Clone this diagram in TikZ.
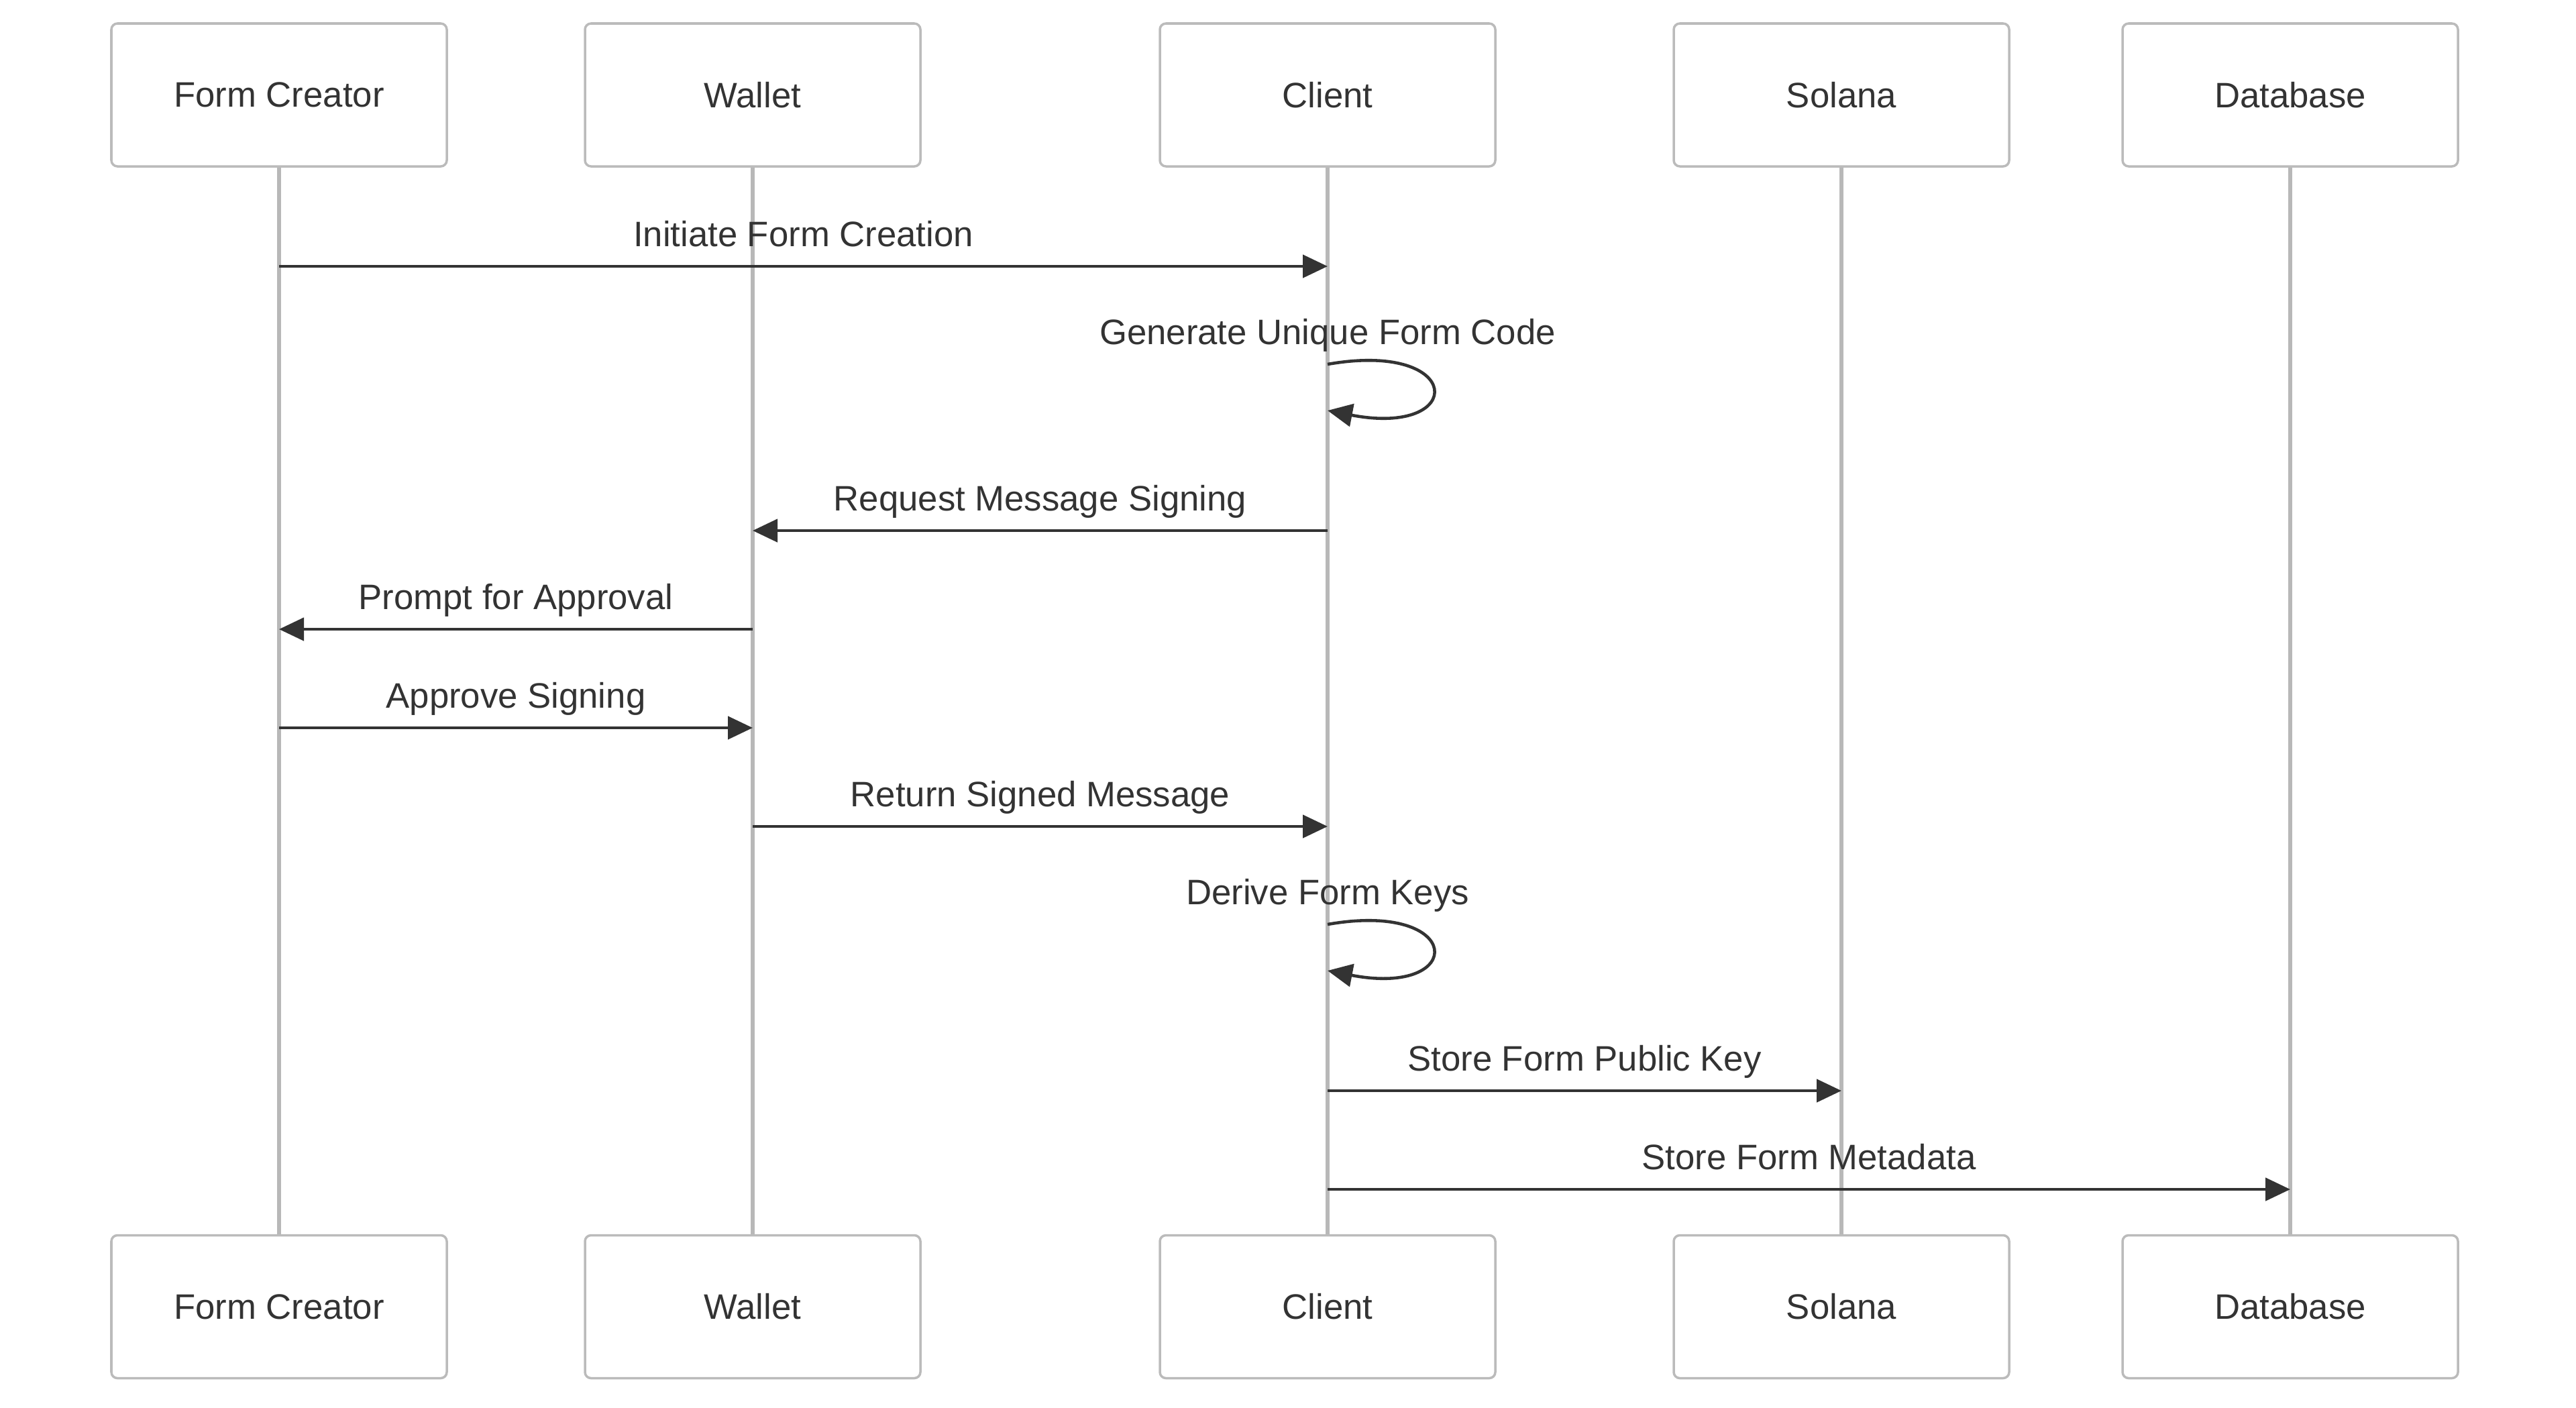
\documentclass[tikz,border=0pt]{standalone}
\usepackage{fontspec}
\setmainfont{Liberation Sans}
\usetikzlibrary{arrows.meta}

\definecolor{inkgray}{HTML}{333333}
\definecolor{linegray}{HTML}{B8B8B8}
\definecolor{boxgray}{HTML}{BBBBBB}

\tikzset{
	actor/.style = {rectangle, rounded corners=0.9mm, draw=boxgray, line width=1pt, fill=white,
		minimum width=5cm, minimum height=2.13cm, text=inkgray, font=\fontsize{15}{18}\selectfont},
	life/.style = {draw=linegray, line width=1.9pt},
	msg/.style = {draw=inkgray, line width=1.3pt, -{Triangle[length=3.7mm, width=3.4mm]}},
	msglabel/.style = {text=inkgray, font=\fontsize{15}{18}\selectfont, anchor=base, inner sep=0pt},
}

\begin{document}
\begin{tikzpicture}
	\useasboundingbox (0,0) rectangle (38.4,-20.98);

	% participants, top row
	\node (FCt) at ( 4.16, -1.415)	[actor]	{Form Creator};
	\node (WAt) at (11.22, -1.415)	[actor]	{Wallet};
	\node (CLt) at (19.79, -1.415)	[actor]	{Client};
	\node (SOt) at (27.45, -1.415)	[actor]	{Solana};
	\node (DBt) at (34.14, -1.415)	[actor]	{Database};
	% participants, bottom row
	\node (FCb) at ( 4.16, -19.48)	[actor]	{Form Creator};
	\node (WAb) at (11.22, -19.48)	[actor]	{Wallet};
	\node (CLb) at (19.79, -19.48)	[actor]	{Client};
	\node (SOb) at (27.45, -19.48)	[actor]	{Solana};
	\node (DBb) at (34.14, -19.48)	[actor]	{Database};

	% lifelines
	\draw[life] (FCt.south) -- (FCb.north);
	\draw[life] (WAt.south) -- (WAb.north);
	\draw[life] (CLt.south) -- (CLb.north);
	\draw[life] (SOt.south) -- (SOb.north);
	\draw[life] (DBt.south) -- (DBb.north);

	% messages
	\draw[msg] (FCt.south |- 0,-3.97) -- (CLt.south |- 0,-3.97)
		node[msglabel, midway, yshift=0.30cm] {Initiate Form Creation};
	\node (lblGen) at (CLt.south |- 0,-5.13)	[msglabel]	{Generate Unique Form Code};
	\draw[msg] (CLt.south |- 0,-5.43) .. controls +(2.05,0.36) and +(2.08,-0.40) .. (CLt.south |- 0,-6.12);
	\draw[msg] (CLt.south |- 0,-7.91) -- (WAt.south |- 0,-7.91)
		node[msglabel, midway, yshift=0.30cm] {Request Message Signing};
	\draw[msg] (WAt.south |- 0,-9.38) -- (FCt.south |- 0,-9.38)
		node[msglabel, midway, yshift=0.30cm] {Prompt for Approval};
	\draw[msg] (FCt.south |- 0,-10.85) -- (WAt.south |- 0,-10.85)
		node[msglabel, midway, yshift=0.30cm] {Approve Signing};
	\draw[msg] (WAt.south |- 0,-12.32) -- (CLt.south |- 0,-12.32)
		node[msglabel, midway, yshift=0.30cm] {Return Signed Message};
	\node (lblKeys) at (CLt.south |- 0,-13.48)	[msglabel]	{Derive Form Keys};
	\draw[msg] (CLt.south |- 0,-13.78) .. controls +(2.05,0.36) and +(2.08,-0.40) .. (CLt.south |- 0,-14.47);
	\draw[msg] (CLt.south |- 0,-16.26) -- (SOt.south |- 0,-16.26)
		node[msglabel, midway, yshift=0.30cm] {Store Form Public Key};
	\draw[msg] (CLt.south |- 0,-17.73) -- (DBt.south |- 0,-17.73)
		node[msglabel, midway, yshift=0.30cm] {Store Form Metadata};
\end{tikzpicture}
\end{document}
